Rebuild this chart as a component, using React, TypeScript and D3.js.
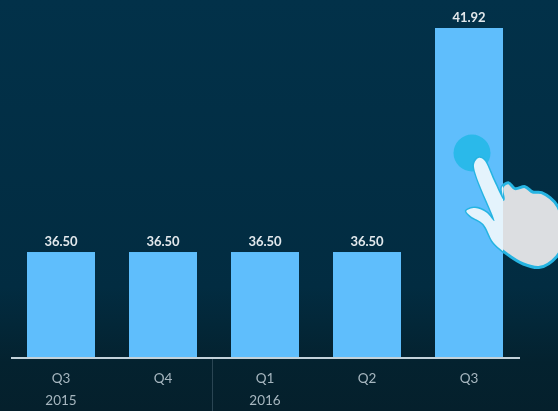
import { useEffect, useRef } from 'react';
import * as d3 from 'd3';

const quarters = ['Q3', 'Q4', 'Q1', 'Q2', 'Q3'];
const values = [36.5, 36.5, 36.5, 36.5, 41.92];
const years = ['2015', '', '2016', '', ''];

// hand outline, traced in a 3x crop of the picture
const handOutline: [number, number][] = [
    [236, 144], [252, 150], [282, 213], [310, 268], [306, 232], [325, 218], [345, 236], [375, 230],
    [398, 246], [425, 248], [474, 290], [490, 400], [470, 440], [420, 472], [370, 462], [315, 428],
    [280, 397], [250, 342], [212, 318], [199, 303], [225, 294], [260, 308], [283, 333], [222, 165],
];

export default function App() {
    const svgRef = useRef<SVGSVGElement>(null);

    useEffect(() => {
        if (!svgRef.current) return;
        const width = 558;
        const height = 411;
        const baseline = 357;

        const root = d3.select(svgRef.current);
        root.selectAll('*').remove();
        root.attr('width', width).attr('height', height);

        const defs = root.append('defs');
        const bg = defs.append('linearGradient')
            .attr('id', 'bg')
            .attr('x1', '0%').attr('y1', '0%')
            .attr('x2', '0%').attr('y2', '100%');
        bg.append('stop').attr('offset', '0%').attr('stop-color', '#023149');
        bg.append('stop').attr('offset', '70%').attr('stop-color', '#022c41');
        bg.append('stop').attr('offset', '88%').attr('stop-color', '#04222f');
        bg.append('stop').attr('offset', '100%').attr('stop-color', '#05202c');

        defs.append('filter').attr('id', 'soft')
            .append('feGaussianBlur').attr('stdDeviation', 0.65);

        defs.append('clipPath').attr('id', 'on-bar')
            .append('rect').attr('x', 0).attr('y', 0).attr('width', 503).attr('height', height);

        root.append('rect').attr('width', width).attr('height', height).attr('fill', 'url(#bg)');

        const chart = root.append('g').attr('filter', 'url(#soft)');

        const x = d3.scaleBand<number>()
            .domain(d3.range(values.length))
            .range([27, 503])
            .paddingInner(1 / 3)
            .paddingOuter(0);

        const y = d3.scaleLinear()
            .domain([33.96, 41.92])
            .range([baseline, 28]);

        // Bars
        chart.selectAll('.bar')
            .data(values)
            .enter()
            .append('rect')
            .attr('class', 'bar')
            .attr('x', (d, i) => x(i) || 0)
            .attr('y', d => y(d))
            .attr('width', x.bandwidth())
            .attr('height', d => baseline - y(d))
            .attr('fill', '#5fbefc');

        // Value labels
        chart.selectAll('.value')
            .data(values)
            .enter()
            .append('text')
            .attr('class', 'value')
            .attr('x', (d, i) => (x(i) || 0) + x.bandwidth() / 2)
            .attr('y', d => y(d) - 6.5)
            .attr('text-anchor', 'middle')
            .attr('font-family', 'Lato')
            .attr('font-size', 13)
            .attr('font-weight', 700)
            .attr('fill', '#e2e8ec')
            .text(d => d.toFixed(2));

        // Axis line and year divider
        chart.append('line')
            .attr('x1', 11).attr('x2', 520)
            .attr('y1', baseline + 1).attr('y2', baseline + 1)
            .attr('stroke', '#c3d2da')
            .attr('stroke-width', 2);

        chart.append('line')
            .attr('x1', 212.5).attr('x2', 212.5)
            .attr('y1', baseline + 2).attr('y2', height)
            .attr('stroke', '#2b4452')
            .attr('stroke-width', 1);

        // Tick labels
        const tickLabels = (rows: string[], yPos: number) => {
            chart.append('g')
                .selectAll('text')
                .data(rows)
                .enter()
                .append('text')
                .attr('x', (d, i) => (x(i) || 0) + x.bandwidth() / 2)
                .attr('y', yPos)
                .attr('text-anchor', 'middle')
                .attr('font-family', 'Lato')
                .attr('font-size', 13.5)
                .attr('fill', '#a6b6bf')
                .text(d => d);
        };
        tickLabels(quarters, 383);
        tickLabels(years, 405);

        // Tap hint
        const hint = root.append('g').attr('filter', 'url(#soft)');
        hint.append('circle')
            .attr('cx', 472).attr('cy', 153).attr('r', 18.5)
            .attr('fill', '#2bb9ea');

        const outline = d3.line().curve(d3.curveCatmullRomClosed.alpha(0.5))(handOutline) || '';
        const hand = hint.append('g').attr('transform', 'translate(400,110) scale(0.3333)');
        hand.append('path')
            .attr('d', outline)
            .attr('fill', '#dcdee1')
            .attr('stroke', '#25b4e2')
            .attr('stroke-width', 9);
        const handOnBar = hint.append('g').attr('clip-path', 'url(#on-bar)')
            .append('g').attr('transform', 'translate(400,110) scale(0.3333)');
        handOnBar.append('path')
            .attr('d', outline)
            .attr('fill', '#e4f3fc');
    }, []);

    return (
        <div style={{ position: 'fixed', left: 0, top: 0 }}>
            <svg ref={svgRef} style={{ display: 'block' }} />
        </div>
    );
}
